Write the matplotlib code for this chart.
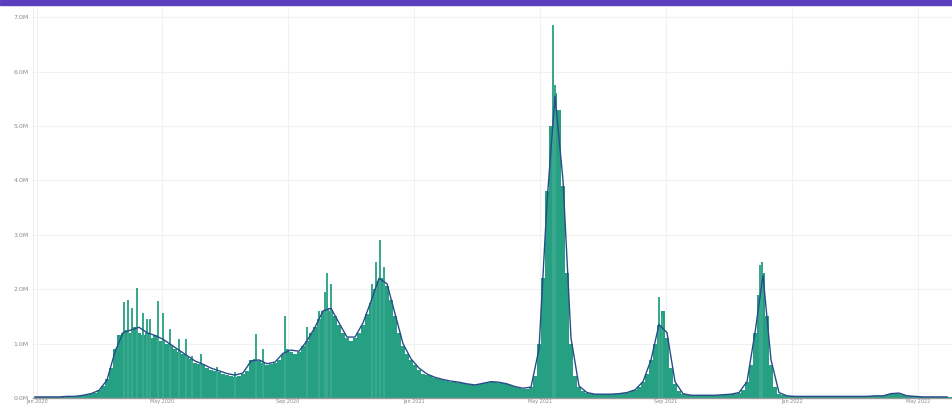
import numpy as np
import matplotlib
matplotlib.use("Agg")
import matplotlib.pyplot as plt
from matplotlib.patches import Rectangle

# daily values (millions), one entry per 4-day block
BAR_STEP = 4
bar_values = [
    0.02, 0.02, 0.02, 0.02, 0.02, 0.02, 0.02, 0.03, 0.03, 0.03,
    0.03, 0.04, 0.05, 0.06, 0.08, 0.10, 0.14, 0.22, 0.35, 0.55,
    0.90, 1.15, 1.20, 1.25, 1.20, 1.30, 1.20, 1.15, 1.20, 1.10,
    1.15, 1.05, 1.05, 1.00, 0.95, 0.90, 0.85, 0.80, 0.75, 0.72,
    0.65, 0.62, 0.60, 0.55, 0.52, 0.50, 0.48, 0.45, 0.42, 0.40,
    0.38, 0.40, 0.45, 0.50, 0.70, 0.72, 0.68, 0.65, 0.60, 0.62,
    0.65, 0.70, 0.80, 0.90, 0.85, 0.80, 0.85, 0.95, 1.05, 1.20,
    1.30, 1.45, 1.60, 1.65, 1.60, 1.50, 1.35, 1.20, 1.10, 1.05,
    1.10, 1.20, 1.35, 1.55, 1.75, 2.00, 2.15, 2.20, 2.05, 1.80,
    1.50, 1.20, 0.95, 0.80, 0.70, 0.60, 0.52, 0.45, 0.42, 0.40,
    0.37, 0.35, 0.33, 0.32, 0.30, 0.30, 0.28, 0.27, 0.25, 0.24,
    0.23, 0.25, 0.27, 0.28, 0.30, 0.30, 0.28, 0.27, 0.25, 0.23,
    0.20, 0.18, 0.17, 0.16, 0.20, 0.40, 1.00, 2.20, 3.80, 5.00,
    5.60, 5.30, 3.90, 2.30, 1.00, 0.40, 0.20, 0.13, 0.10, 0.08,
    0.07, 0.07, 0.07, 0.07, 0.07, 0.08, 0.08, 0.09, 0.10, 0.12,
    0.15, 0.20, 0.30, 0.45, 0.70, 1.00, 1.35, 1.60, 1.10, 0.55,
    0.25, 0.12, 0.08, 0.06, 0.05, 0.05, 0.05, 0.05, 0.05, 0.05,
    0.05, 0.05, 0.06, 0.06, 0.07, 0.08, 0.10, 0.15, 0.30, 0.60,
    1.20, 1.90, 2.30, 1.50, 0.60, 0.20, 0.08, 0.05, 0.04, 0.03,
    0.03, 0.03, 0.03, 0.03, 0.03, 0.03, 0.03, 0.03, 0.03, 0.03,
    0.03, 0.03, 0.03, 0.03, 0.03, 0.03, 0.03, 0.03, 0.03, 0.04,
    0.04, 0.04, 0.04, 0.06, 0.08, 0.10, 0.08, 0.05, 0.03, 0.03,
    0.03, 0.02, 0.02, 0.02, 0.02, 0.02, 0.02, 0.02, 0.02, 0.02,
]

# single-day spikes (day, millions)
spike_days = [91, 95, 99, 104, 110, 114, 117, 125, 130, 137, 146, 153,
              159, 168, 184, 202, 223, 230, 252, 274, 286,
              292, 294, 298, 339, 343, 347, 351,
              520, 522, 626, 629, 727, 729]
spike_values = [1.76, 1.80, 1.65, 2.03, 1.56, 1.45, 1.46, 1.78, 1.56, 1.26,
                1.08, 1.08, 0.77, 0.80, 0.57, 0.48, 1.17, 0.90, 1.50, 1.30,
                1.60, 1.95, 2.30, 2.10, 2.10, 2.50, 2.90, 2.40,
                6.85, 5.75, 1.85, 1.50, 2.45, 2.50]

# 7-day average, sampled every 8 days
LINE_STEP = 8
avg_values = [
    0.02, 0.02, 0.02, 0.02, 0.03, 0.03, 0.05, 0.08, 0.14, 0.33,
    0.85, 1.20, 1.25, 1.30, 1.20, 1.15, 1.08, 0.98, 0.88, 0.78,
    0.68, 0.62, 0.55, 0.50, 0.45, 0.42, 0.46, 0.68, 0.70, 0.63,
    0.66, 0.82, 0.88, 0.86, 1.05, 1.30, 1.60, 1.65, 1.38, 1.12,
    1.12, 1.38, 1.78, 2.20, 2.10, 1.55, 1.00, 0.72, 0.55, 0.44,
    0.38, 0.34, 0.31, 0.29, 0.26, 0.24, 0.27, 0.30, 0.29, 0.26,
    0.21, 0.18, 0.20, 0.90, 3.60, 5.55, 4.00, 1.10, 0.22, 0.10,
    0.07, 0.07, 0.07, 0.08, 0.10, 0.15, 0.30, 0.70, 1.35, 1.20,
    0.30, 0.08, 0.05, 0.05, 0.05, 0.05, 0.06, 0.07, 0.10, 0.30,
    1.20, 2.25, 0.70, 0.10, 0.04, 0.03, 0.03, 0.03, 0.03, 0.03,
    0.03, 0.03, 0.03, 0.03, 0.03, 0.04, 0.04, 0.08, 0.09, 0.04,
    0.03, 0.02, 0.02, 0.02, 0.02,
]

y_ticks = [0, 1, 2, 3, 4, 5, 6, 7]
x_tick_days = [4, 129, 255, 381, 507, 633, 759, 885]
x_tick_labels = ["Jan 2020", "May 2020", "Sep 2020", "Jan 2021",
                 "May 2021", "Sep 2021", "Jan 2022", "May 2022"]

TEAL = "#26a083"
NAVY = "#2a4a8a"


def main():
    fig = plt.figure(figsize=(9.52, 4.05), dpi=100)
    fig.patches.append(Rectangle((0, 1 - 5 / 405), 1, 5 / 405,
                                 transform=fig.transFigure,
                                 color="#5b3fbe", zorder=10))
    ax = fig.add_axes([33 / 952, 7 / 405, 1 - 33 / 952, 389 / 405])

    bar_x = np.arange(len(bar_values)) * BAR_STEP
    ax.bar(bar_x, bar_values, width=BAR_STEP, align="edge",
           color=TEAL, linewidth=0, zorder=2)
    ax.bar(spike_days, spike_values, width=1.5, align="center",
           color="#3aa88d", linewidth=0, zorder=2)

    line_x = np.arange(len(avg_values)) * LINE_STEP + 2
    ax.plot(line_x, avg_values, color=NAVY, linewidth=1.0, zorder=3)

    ax.set_xlim(0, 919)
    ax.set_ylim(0, 7.15)
    ax.set_yticks(y_ticks)
    ax.set_yticklabels([f"{v:.1f}M" for v in y_ticks])
    ax.set_xticks(x_tick_days)
    ax.set_xticklabels(x_tick_labels)
    ax.tick_params(axis="y", length=0, labelsize=4.5, colors="#8a8a8a", pad=3)
    ax.tick_params(axis="x", length=0, labelsize=3.5, colors="#8a8a8a", pad=1)
    ax.grid(True, color="#f1f1f1", linewidth=0.8, zorder=0)
    ax.set_axisbelow(True)
    for side in ("top", "right"):
        ax.spines[side].set_visible(False)
    ax.spines["left"].set_color("#eeeeee")
    ax.spines["bottom"].set_color("#9a9a9a")
    ax.spines["bottom"].set_linewidth(1.0)

    fig.savefig("out.png", dpi=100)


if __name__ == "__main__":
    main()
